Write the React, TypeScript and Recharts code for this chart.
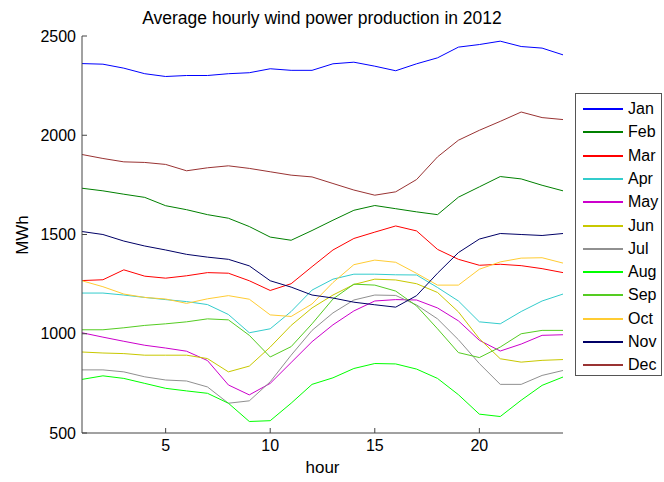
import { CartesianGrid, Line, LineChart, XAxis, YAxis } from "recharts";

const hours = [1, 2, 3, 4, 5, 6, 7, 8, 9, 10, 11, 12, 13, 14, 15, 16, 17, 18, 19, 20, 21, 22, 23, 24];

const jan = [2361, 2358, 2338, 2310, 2296, 2301, 2301, 2310, 2315, 2335, 2327, 2327, 2360, 2368, 2348, 2325, 2360, 2390, 2444, 2457, 2474, 2447, 2439, 2405];
const feb = [1733, 1720, 1703, 1687, 1645, 1625, 1600, 1582, 1540, 1487, 1471, 1520, 1572, 1622, 1646, 1630, 1614, 1600, 1688, 1740, 1792, 1780, 1748, 1720];
const mar = [1268, 1272, 1322, 1290, 1280, 1292, 1308, 1305, 1267, 1218, 1252, 1338, 1422, 1480, 1512, 1543, 1518, 1425, 1375, 1345, 1350, 1343, 1328, 1308];
const apr = [1205, 1205, 1195, 1183, 1172, 1162, 1147, 1097, 1005, 1025, 1112, 1220, 1275, 1300, 1300, 1297, 1296, 1233, 1165, 1060, 1050, 1112, 1165, 1200];
const may = [1005, 983, 962, 942, 928, 912, 865, 742, 692, 750, 855, 960, 1045, 1115, 1165, 1172, 1170, 1130, 1065, 967, 913, 948, 992, 995];
const jun = [908, 903, 900, 892, 892, 892, 875, 808, 837, 933, 1042, 1130, 1195, 1248, 1275, 1271, 1252, 1208, 1110, 975, 874, 857, 866, 870];
const jul = [818, 818, 808, 783, 767, 762, 732, 650, 662, 758, 892, 1017, 1105, 1170, 1195, 1193, 1145, 1075, 970, 850, 745, 745, 790, 815];
const aug = [770, 788, 775, 750, 725, 712, 700, 650, 558, 562, 650, 745, 778, 825, 850, 848, 822, 775, 693, 595, 583, 665, 740, 782];
const sep = [1020, 1020, 1030, 1042, 1050, 1060, 1075, 1070, 992, 883, 935, 1050, 1175, 1250, 1245, 1215, 1140, 1025, 905, 880, 933, 1000, 1017, 1017];
const oct = [1267, 1237, 1200, 1183, 1175, 1153, 1176, 1192, 1174, 1095, 1087, 1150, 1258, 1348, 1371, 1360, 1304, 1245, 1245, 1325, 1362, 1381, 1383, 1356];
const nov = [1515, 1500, 1467, 1442, 1422, 1400, 1386, 1375, 1342, 1267, 1235, 1195, 1180, 1159, 1146, 1134, 1192, 1305, 1409, 1477, 1505, 1500, 1495, 1505];
const dec = [1903, 1883, 1866, 1863, 1853, 1821, 1836, 1846, 1833, 1816, 1799, 1790, 1757, 1724, 1698, 1715, 1777, 1891, 1975, 2025, 2070, 2117, 2089, 2079];

const xTicks = [5, 10, 15, 20];
const yTicks = [500, 1000, 1500, 2000, 2500];

const series = [
  { key: "Jan", values: jan, color: "#0000ff" },
  { key: "Feb", values: feb, color: "#008000" },
  { key: "Mar", values: mar, color: "#ff0000" },
  { key: "Apr", values: apr, color: "#33cccc" },
  { key: "May", values: may, color: "#cc00cc" },
  { key: "Jun", values: jun, color: "#c8c800" },
  { key: "Jul", values: jul, color: "#909090" },
  { key: "Aug", values: aug, color: "#00ff00" },
  { key: "Sep", values: sep, color: "#55cc22" },
  { key: "Oct", values: oct, color: "#ffcc33" },
  { key: "Nov", values: nov, color: "#000066" },
  { key: "Dec", values: dec, color: "#993333" },
];

const rows = hours.map((hour, i) => {
  const row: Record<string, number> = { hour };
  series.forEach((s) => {
    row[s.key] = s.values[i];
  });
  return row;
});

const font = "'Liberation Sans', Arial, sans-serif";

function MonthLegend() {
  return (
    <div
      style={{
        position: "absolute",
        left: 575,
        top: 93,
        width: 87,
        height: 283,
        border: "1px solid #555",
        background: "#fff",
        boxSizing: "border-box",
        fontFamily: font,
        fontSize: 16,
        color: "#000",
      }}
    >
      {series.map((s, i) => (
        <div
          key={s.key}
          style={{
            position: "absolute",
            left: 7,
            top: 5 + i * 23.3,
            height: 20,
            display: "flex",
            alignItems: "center",
          }}
        >
          <div style={{ width: 40, height: 2, background: s.color }} />
          <span style={{ marginLeft: 5 }}>{s.key}</span>
        </div>
      ))}
    </div>
  );
}

export default function App() {
  return (
    <div style={{ position: "absolute", left: 0, top: 0, width: 664, height: 482, background: "#fff" }}>
      <LineChart
        width={664}
        height={482}
        data={rows}
        margin={{ top: 36, right: 101, bottom: 0, left: 22 }}
        style={{ fontFamily: font }}
      >
        <CartesianGrid stroke="none" />
        <XAxis
          dataKey="hour"
          type="number"
          domain={[1, 24]}
          ticks={xTicks}
          height={49}
          tickSize={-5}
          tickMargin={12}
          stroke="#444"
          tick={{ fill: "#000", fontSize: 16 }}
          label={{ value: "hour", position: "insideBottom", offset: 9, fill: "#000", fontSize: 17 }}
        />
        <YAxis
          type="number"
          domain={[500, 2500]}
          ticks={yTicks}
          width={60}
          tickSize={-5}
          tickMargin={11}
          stroke="#444"
          tick={{ fill: "#000", fontSize: 16 }}
        />
        {series.map((s) => (
          <Line
            key={s.key}
            type="linear"
            dataKey={s.key}
            stroke={s.color}
            strokeWidth={1}
            dot={false}
            activeDot={false}
            isAnimationActive={false}
          />
        ))}
        <text x={322} y={24} textAnchor="middle" fontSize={17.5} fill="#000" fontFamily={font}>
          Average hourly wind power production in 2012
        </text>
        <text
          x={28}
          y={235}
          textAnchor="middle"
          fontSize={17}
          fill="#000"
          fontFamily={font}
          transform="rotate(-90, 28, 235)"
        >
          MWh
        </text>
      </LineChart>
      <MonthLegend />
    </div>
  );
}
